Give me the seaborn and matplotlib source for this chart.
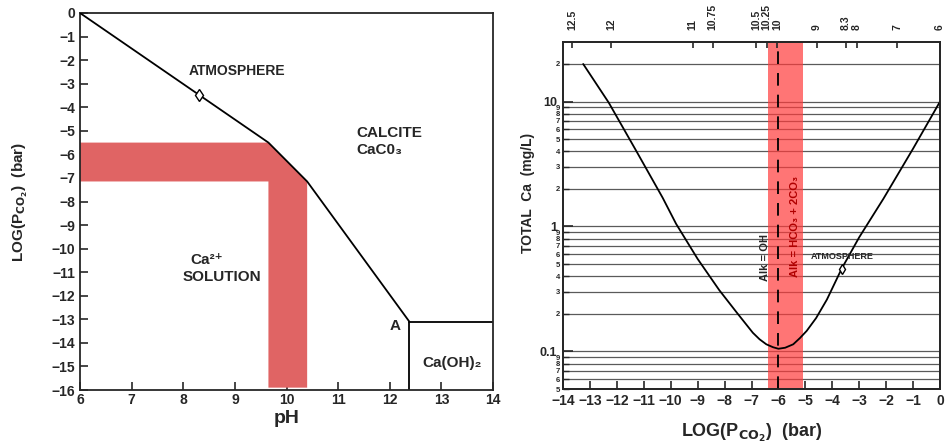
import numpy as np
import pandas as pd
import matplotlib
matplotlib.use("Agg")
import matplotlib.pyplot as plt
import matplotlib.ticker as mticker
import seaborn as sns

# ---- left panel: calcite stability diagram ----
boundary_ph = [6.0, 9.65, 10.4, 12.38]
boundary_logp = [0.0, -5.5, -7.15, -13.1]
caoh_ph = [12.38, 14.0]
caoh_logp = -13.1
atm_ph, atm_logp = 8.3, -3.47
band_ph = [9.65, 10.4]
band_logp = [-5.5, -7.15]
band_bottom = -15.9

# ---- right panel: total Ca vs log PCO2 ----
logp = [-13.25, -12.3, -11.3, -10.3, -9.8, -9.0, -8.2, -7.55, -7.25, -6.95, -6.7,
        -6.45, -6.2, -6.0, -5.75, -5.45, -5.2, -4.95, -4.6, -4.2, -3.65, -3.0,
        -2.1, -1.0, 0.0]
total_ca = [20, 9.8, 4.1, 1.7, 1.05, 0.55, 0.31, 0.205, 0.17, 0.141, 0.125,
            0.114, 0.108, 0.105, 0.107, 0.114, 0.128, 0.146, 0.185, 0.26, 0.46, 0.82,
            1.67, 4.2, 10]
atm_logp_r, atm_ca = -3.63, 0.46
red_band = [-6.4, -5.1]
dash_x = -6.0
top_pos = [-13.65, -12.22, -9.18, -8.44, -6.83, -6.44, -6.04, -4.58, -3.49, -3.1, -1.59, 0.0]
top_lbl = ["12.5", "12", "11", "10.75", "10.5", "10.25", "10", "9", "8.3", "8", "7", "6"]

sns.set_style("ticks")
plt.rcParams['font.family'] = ['Liberation Sans', 'DejaVu Sans']
plt.rcParams['axes.linewidth'] = 1.3

fig = plt.figure(figsize=(9.48, 4.43), dpi=100)
W, H = 948, 443
ax1 = fig.add_axes([80 / W, (H - 390) / H, 413 / W, 377 / H])
ax2 = fig.add_axes([563 / W, (H - 389) / H, 377 / W, 347 / H])

# left panel
bx = [boundary_ph[0], band_ph[0], band_ph[1], band_ph[1], band_ph[0], band_ph[0], boundary_ph[0]]
by = [band_logp[0], band_logp[0], band_logp[1], band_bottom, band_bottom, band_logp[1], band_logp[1]]
ax1.fill(bx, by, color='#e06464', lw=0, zorder=1)
sns.lineplot(x=boundary_ph, y=boundary_logp, ax=ax1, color='k', lw=1.3,
             sort=False, estimator=None, zorder=3)
ax1.plot(caoh_ph, [caoh_logp, caoh_logp], color='k', lw=1.3)
ax1.plot([caoh_ph[0], caoh_ph[0]], [caoh_logp, -16], color='k', lw=1.3)
ax1.plot([atm_ph], [atm_logp], marker='d', ms=6, mfc='white', mec='k', mew=1, zorder=4)

ax1.set_xlim(6, 14)
ax1.set_ylim(-16, 0)
ax1.set_xticks(range(6, 15))
ax1.set_yticks(range(-16, 1))
ax1.tick_params(direction='in', length=6, width=1.2, labelsize=10)
ax1.tick_params(axis='x', pad=2)
for lab in ax1.get_xticklabels() + ax1.get_yticklabels():
    lab.set_fontweight('bold')
ax1.set_xlabel("pH", fontsize=14, fontweight='bold')
ax1.xaxis.set_label_coords(0.5, -0.052)
ax1.set_ylabel(r"LOG(P$_{\mathbf{CO_2}}$)  (bar)", fontsize=11, fontweight='bold')
ax1.yaxis.set_label_coords(-0.12, 0.5)

tkw = dict(fontsize=10, fontweight='bold', ha='center', va='center')
ax1.text(9.05, -2.45, "ATMOSPHERE", **tkw)
ax1.text(11.35, -5.1, "CALCITE", fontsize=11, fontweight='bold', ha='left', va='center')
ax1.text(11.35, -5.8, "CaC0₃", fontsize=11, fontweight='bold', ha='left', va='center')
ax1.text(8.45, -10.5, "Ca²⁺", fontsize=11, fontweight='bold', ha='center', va='center')
ax1.text(8.75, -11.2, "SOLUTION", fontsize=11, fontweight='bold', ha='center', va='center')
ax1.text(12.1, -13.3, "A", fontsize=11, fontweight='bold', ha='center', va='center')
ax1.text(13.2, -14.85, "Ca(OH)₂", fontsize=11, fontweight='bold', ha='center', va='center')

# right panel
ax2.set_yscale('log')
ax2.set_xlim(-14, 0)
ax2.set_ylim(0.05, 30)
ax2.yaxis.grid(True, which='both', color='#5a5a5a', lw=0.9)
ax2.set_axisbelow(True)
ax2.axvspan(red_band[0], red_band[1], color='#ff3b3b', alpha=0.7, lw=0, zorder=2)
ax2.axvline(dash_x, color='k', lw=1.3, ls=(0, (7, 5)), zorder=3)
curve = pd.DataFrame({"logp": logp, "ca": total_ca})
sns.lineplot(data=curve, x="logp", y="ca", ax=ax2, color='k', lw=1.3,
             sort=False, estimator=None, zorder=4)
ax2.plot([atm_logp_r], [atm_ca], marker='d', ms=5, mfc='white', mec='k', mew=1, zorder=5)

ax2.set_xticks(range(-14, 1))
ax2.yaxis.set_major_locator(mticker.FixedLocator([0.1, 1, 10]))
ax2.yaxis.set_major_formatter(mticker.FixedFormatter(["0.1", "1", "10"]))
minor = [m * 10.0 ** e for e in (-2, -1, 0, 1) for m in range(2, 10)]
minor = [v for v in minor if 0.05 <= v < 29]
ax2.yaxis.set_minor_locator(mticker.FixedLocator(minor))
ax2.yaxis.set_minor_formatter(mticker.FixedFormatter([str(int(round(v / 10.0 ** np.floor(np.log10(v))))) for v in minor]))
ax2.tick_params(axis='x', direction='in', length=6, width=1.2, labelsize=10)
ax2.tick_params(axis='y', which='major', direction='in', length=7, width=1.2, labelsize=9, pad=4)
ax2.tick_params(axis='y', which='minor', direction='in', length=4, width=1, labelsize=5.5, pad=2)
for lab in ax2.get_xticklabels() + ax2.get_yticklabels() + ax2.get_yticklabels(minor=True):
    lab.set_fontweight('bold')
ax2.set_xlabel(r"LOG(P$_{\mathbf{CO_2}}$)  (bar)", fontsize=13, fontweight='bold')
ax2.xaxis.set_label_coords(0.5, -0.095)
ax2.set_ylabel("TOTAL  Ca  (mg/L)", fontsize=10, fontweight='bold')
ax2.yaxis.set_label_coords(-0.075, 0.565)

top = ax2.twiny()
top.set_xlim(-14, 0)
top.set_xticks(top_pos)
top.set_xticklabels(top_lbl, rotation=90, fontsize=7.5, fontweight='bold')
top.tick_params(direction='in', length=4, width=1.2, pad=9)

ax2.text(-6.5, 0.56, "Alk = OH", rotation=90, fontsize=8, fontweight='bold',
         ha='center', va='center', zorder=6)
ax2.text(-5.38, 1.0, "Alk = HCO₃ + 2CO₃", rotation=90, fontsize=8, fontweight='bold',
         color='#b00000', ha='center', va='center', zorder=6)
ax2.text(-3.64, 0.58, "ATMOSPHERE", fontsize=6.5, fontweight='bold', ha='center', va='center', zorder=6)

fig.savefig("out.png", dpi=100)
